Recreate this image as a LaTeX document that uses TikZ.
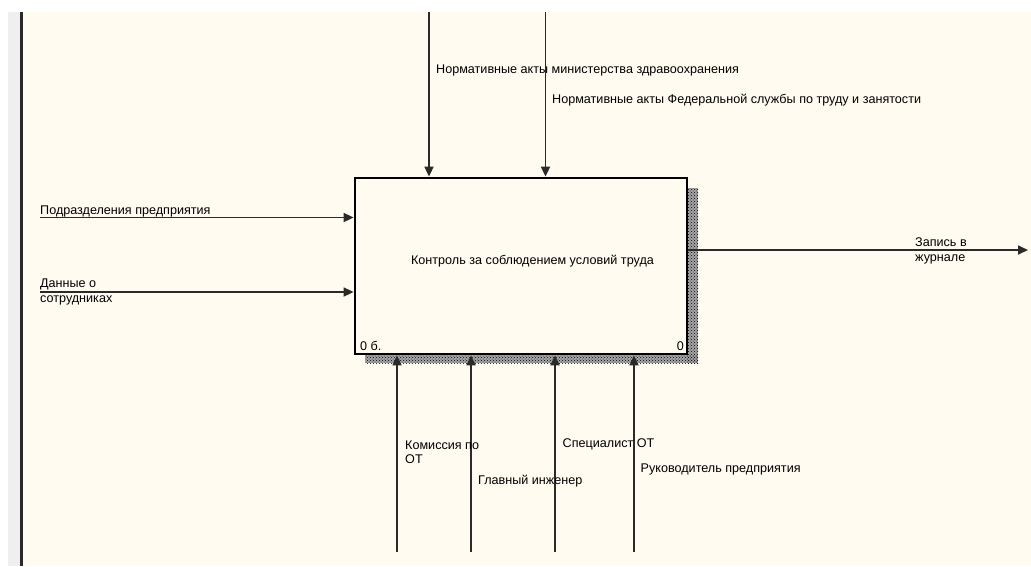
\documentclass[tikz,border=0pt]{standalone}
\usepackage{fontspec}
\setmainfont{Liberation Sans}
\usetikzlibrary{arrows.meta,patterns}
\definecolor{bgcream}{HTML}{FFFBF0}
\definecolor{lnc}{HTML}{2A2A2A}
\definecolor{strip}{HTML}{EFEFEF}
\newcommand{\lblfont}{\fontsize{12.6}{15}\selectfont}
\tikzset{
  conn/.style={draw=lnc,line width=1.7pt,-{Triangle[length=10pt,width=9pt]}},
  lbl/.style={anchor=base west,inner sep=0pt,font=\lblfont,text=black},
  funcbox/.style={draw=black,line width=2.8pt,fill=bgcream,inner sep=0pt,minimum width=332pt,minimum height=176pt},
  shadowfill/.style={fill=black!35},
  shadowpat/.style={pattern=crosshatch dots,pattern color=black}
}
\begin{document}
\begin{tikzpicture}[x=1pt,y=-1pt]
\useasboundingbox (0,0) rectangle (1031,566);
\fill[white] (0,0) rectangle (1031,566);
\fill[bgcream] (23,12) rectangle (1031,566);
\fill[strip] (8,12) rectangle (20,566);
\fill[lnc] (20,12) rectangle (23,566);
% shadow
\fill[shadowfill] (687,188) rectangle (698,363);
\fill[shadowfill] (365,355) rectangle (698,363);
\fill[shadowpat] (687,188) rectangle (698,363);
\fill[shadowpat] (365,355) rectangle (698,363);
% box
\node[funcbox] (box) at (521,266) {};
\node[anchor=base,inner sep=0pt,font=\lblfont] (title) at (532.5,264) {Контроль за соблюдением условий труда};
\node[lbl] (num) at (360,350.5) {0 б.};
\node[anchor=base east,inner sep=0pt,font=\lblfont] (num2) at (684,350.5) {0};
% coordinates
\coordinate (c1s) at (429,12);
\coordinate (c2s) at (545.5,12);
\coordinate (i1s) at (40,217.5);
\coordinate (i2s) at (40,292);
\coordinate (oe) at (1028,250);
\coordinate (m1s) at (397,552);
\coordinate (m2s) at (471,552);
\coordinate (m3s) at (555,552);
\coordinate (m4s) at (634,552);
% controls
\draw[conn] (c1s) -- (c1s |- box.north);
\draw[conn] (c2s) -- (c2s |- box.north);
% inputs
\draw[conn] (i1s) -- (i1s -| box.west);
\draw[conn] (i2s) -- (i2s -| box.west);
% output
\draw[conn] (box.east |- oe) -- (oe);
% mechanisms
\draw[conn] (m1s) -- (m1s |- box.south);
\draw[conn] (m2s) -- (m2s |- box.south);
\draw[conn] (m3s) -- (m3s |- box.south);
\draw[conn] (m4s) -- (m4s |- box.south);
% labels
\node[lbl] (lc1) at (436,73) {Нормативные акты министерства здравоохранения};
\node[lbl] (lc2) at (552,103) {Нормативные акты Федеральной службы по труду и занятости};
\node[lbl] (li1) at (40,214) {Подразделения предприятия};
\node[lbl] (li2a) at (40,287) {Данные о};
\node[lbl] (li2b) at (40,302.5) {сотрудниках};
\node[lbl] (lo1) at (915,246.5) {Запись в};
\node[lbl] (lo2) at (915,261) {журнале};
\node[lbl] (lm1a) at (405,449.5) {Комиссия по};
\node[lbl] (lm1b) at (405,463) {ОТ};
\node[lbl] (lm2) at (478,484.5) {Главный инженер};
\node[lbl] (lm3) at (562.5,447.5) {Специалист ОТ};
\node[lbl] (lm4) at (640.5,472) {Руководитель предприятия};
\end{tikzpicture}
\end{document}
